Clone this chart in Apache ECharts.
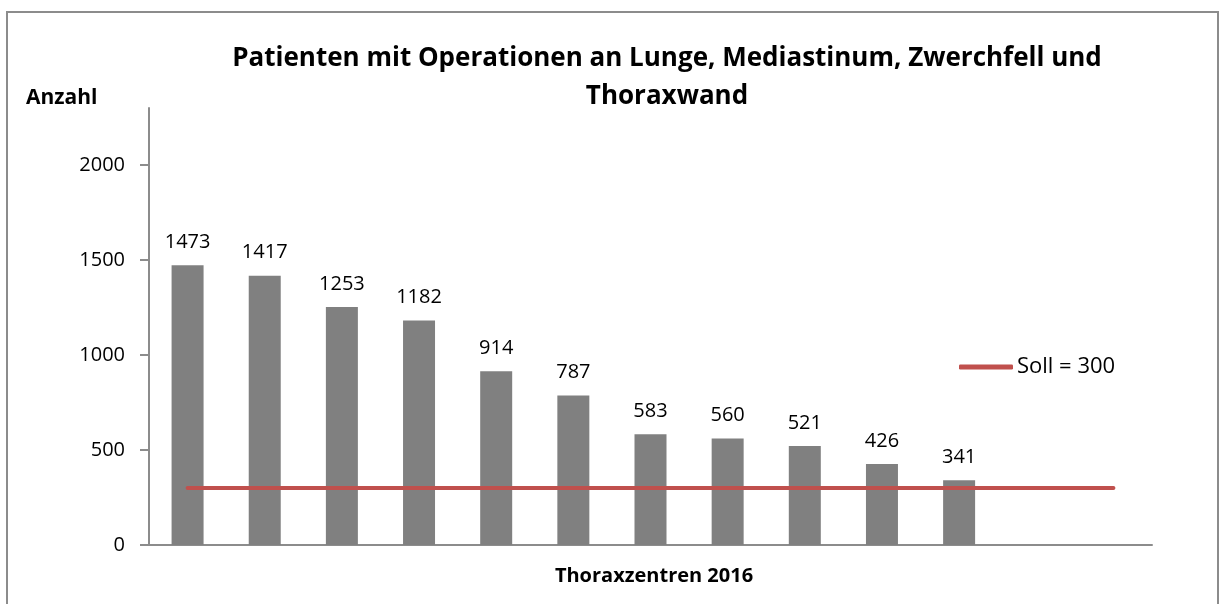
<!DOCTYPE html>
<html>
<head>
<meta charset="utf-8">
<script src="https://cdn.jsdelivr.net/npm/echarts@6/dist/echarts.min.js"></script>
<style>
  body { margin: 0; background: #fff; }
  #frame {
    position: absolute; left: 6px; top: 11px; width: 1209px; height: 620px;
    border: 2px solid #8c8c8c; border-bottom: none;
  }
  #main { position: absolute; left: 0; top: 0; width: 1222px; height: 604px; }
</style>
</head>
<body>
<div id="frame"></div>
<div id="main"></div>
<script>
// Zentren (ohne Beschriftung), die letzten zwei sind leer
var categories = ["Z1", "Z2", "Z3", "Z4", "Z5", "Z6", "Z7", "Z8", "Z9", "Z10", "Z11", "Z12", "Z13"];
var patienten = [1473, 1417, 1253, 1182, 914, 787, 583, 560, 521, 426, 341, "-", "-"];
var soll = [300, 300, 300, 300, 300, 300, 300, 300, 300, 300, 300, 300, 300];

var chart = echarts.init(document.getElementById("main"));
var font = "Open Sans";

var option = {
  animation: false,
  title: [
    {
      text: "Patienten mit Operationen an Lunge, Mediastinum, Zwerchfell und\nThoraxwand",
      left: 662,
      top: 35,
      textAlign: "center",
      textStyle: { fontFamily: font, fontWeight: "bold", fontSize: 26, lineHeight: 38, color: "#000" }
    },
    {
      text: "Anzahl",
      left: 21,
      top: 83,
      textStyle: { fontFamily: font, fontWeight: "bold", fontSize: 21, color: "#000" }
    },
    {
      text: "Thoraxzentren 2016",
      left: 649,
      top: 561,
      textAlign: "center",
      textStyle: { fontFamily: font, fontWeight: "bold", fontSize: 20, color: "#000" }
    }
  ],
  legend: {
    data: [{ name: "Soll = 300", icon: "roundRect" }],
    left: 954,
    top: 351,
    itemWidth: 54,
    itemHeight: 5,
    itemGap: 5,
    textStyle: { fontFamily: font, fontSize: 22, color: "#000", padding: [0, 0, 0, -1] }
  },
  grid: { left: 149, right: 70, top: 108, bottom: 59 },
  xAxis: {
    type: "category",
    data: categories,
    axisLine: { lineStyle: { color: "#8c8c8c", width: 2 } },
    axisTick: { show: false },
    axisLabel: { show: false }
  },
  yAxis: {
    type: "value",
    min: 0,
    max: 2300,
    interval: 500,
    splitLine: { show: false },
    axisLine: { show: true, lineStyle: { color: "#8c8c8c", width: 2 } },
    axisTick: { show: true, length: 9, lineStyle: { color: "#8c8c8c", width: 2 } },
    axisLabel: {
      margin: 24,
      showMaxLabel: false,
      formatter: function (v) { return String(v); },
      fontFamily: font,
      fontSize: 20,
      color: "#000"
    }
  },
  series: [
    {
      name: "Patienten",
      type: "bar",
      data: patienten,
      barWidth: 32,
      itemStyle: { color: "#808080" },
      label: {
        show: true,
        position: "top",
        distance: 13,
        fontFamily: font,
        fontSize: 20,
        color: "#000"
      }
    },
    {
      name: "Soll = 300",
      type: "line",
      data: soll,
      symbol: "none",
      lineStyle: { color: "#c0504d", width: 4, cap: "round" },
      itemStyle: { color: "#c0504d" }
    }
  ]
};

chart.setOption(option);
</script>
</body>
</html>
